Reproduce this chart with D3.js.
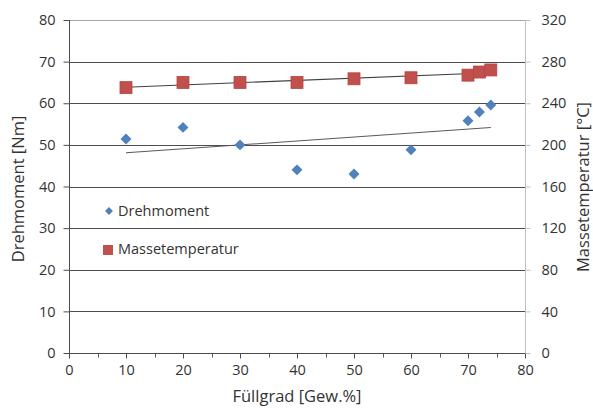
<!DOCTYPE html>
<html>
<head>
<meta charset="utf-8">
<script src="https://cdn.jsdelivr.net/npm/d3@7"></script>
<style>
  body { margin: 0; background: #fff; }
  text { font-family: "Open Sans", sans-serif; fill: #333; }
</style>
</head>
<body>
<svg id="chart"></svg>
<script>
var width = 593;
var height = 408;

// data
var fuellgrad = [10, 20, 30, 40, 50, 60, 70, 72, 74];
var drehmoment = [51.4, 54.2, 50.0, 44.0, 43.0, 48.8, 55.8, 57.9, 59.6];
var masseTemp = [255, 260, 260, 260, 263.5, 264.5, 267, 270, 272];
var xTicks = [0, 10, 20, 30, 40, 50, 60, 70, 80];
var yLeftTicks = [0, 10, 20, 30, 40, 50, 60, 70, 80];
var yRightTicks = [0, 40, 80, 120, 160, 200, 240, 280, 320];

var margin = {top: 20, right: 68, bottom: 55, left: 69};

var svg = d3.select("#chart").attr("width", width).attr("height", height);

var x = d3.scaleLinear().domain([0, 80]).range([margin.left, width - margin.right]);
var yL = d3.scaleLinear().domain([0, 80]).range([height - margin.bottom, margin.top]);
var yR = d3.scaleLinear().domain([0, 320]).range([height - margin.bottom, margin.top]);

// grid lines
svg.append("g")
    .selectAll("line")
    .data(yLeftTicks.slice(1))
    .enter()
    .append("line")
    .attr("x1", x(0)).attr("x2", x(80))
    .attr("y1", function(d) { return Math.round(yL(d)) + 0.5; })
    .attr("y2", function(d) { return Math.round(yL(d)) + 0.5; })
    .attr("stroke", function(d) { return d == 80 ? "#a6a6a6" : "#4d4d4d"; })
    .attr("stroke-width", 1);

// left axis
var axL = svg.append("g")
    .attr("transform", "translate(" + (Math.round(x(0)) + 0.5) + ",0)")
    .call(d3.axisLeft(yL).tickValues(yLeftTicks).tickSize(6).tickPadding(8));

// right axis
var axR = svg.append("g")
    .attr("transform", "translate(" + (Math.round(x(80)) + 0.5) + ",0)")
    .call(d3.axisRight(yR).tickValues(yRightTicks).tickSize(5).tickPadding(11));

// bottom axis with minor ticks
var axB = svg.append("g")
    .attr("transform", "translate(0," + (Math.round(yL(0)) + 0.5) + ")")
    .call(d3.axisBottom(x).tickValues(xTicks).tickSize(5).tickPadding(6));

svg.append("g")
    .attr("transform", "translate(0," + (Math.round(yL(0)) + 0.5) + ")")
    .selectAll("line")
    .data(d3.range(5, 80, 10))
    .enter()
    .append("line")
    .attr("x1", function(d) { return Math.round(x(d)) + 0.5; })
    .attr("x2", function(d) { return Math.round(x(d)) + 0.5; })
    .attr("y1", 0).attr("y2", 4)
    .attr("stroke", "#5a5a5a");

[axL, axB].forEach(function(a) {
    a.select(".domain").attr("stroke", "#4d4d4d");
    a.selectAll(".tick line").attr("stroke", "#4d4d4d");
});
axR.select(".domain").attr("stroke", "#bfbfbf");
axR.selectAll(".tick line").attr("stroke", "#bfbfbf");
[axL, axR, axB].forEach(function(a) {
    a.selectAll(".tick text").attr("font-size", "14.5px")
        .attr("font-family", "Open Sans").attr("fill", "#333");
});
axL.select(".domain").attr("d", "M0," + yL(80) + "V" + yL(0));
axR.select(".domain").attr("d", "M0," + yL(80) + "V" + yL(0));
axB.select(".domain").attr("d", "M" + x(0) + ",0H" + x(80));

// linear trend lines
function trend(xs, ys) {
    var mx = d3.mean(xs), my = d3.mean(ys);
    var num = d3.sum(xs, function(v, i) { return (v - mx) * (ys[i] - my); });
    var den = d3.sum(xs, function(v) { return (v - mx) * (v - mx); });
    var b = num / den;
    var a = my - b * mx;
    var x0 = d3.min(xs), x1 = d3.max(xs);
    return [[x0, a + b * x0], [x1, a + b * x1]];
}

var tD = trend(fuellgrad, drehmoment);
var tM = trend(fuellgrad, masseTemp);

svg.append("line")
    .attr("x1", x(tD[0][0])).attr("y1", yL(tD[0][1]))
    .attr("x2", x(tD[1][0])).attr("y2", yL(tD[1][1]))
    .attr("stroke", "#595959").attr("stroke-width", 1.1);
svg.append("line")
    .attr("x1", x(tM[0][0])).attr("y1", yR(tM[0][1]))
    .attr("x2", x(tM[1][0])).attr("y2", yR(tM[1][1]))
    .attr("stroke", "#404040").attr("stroke-width", 1.1);

// markers
var diamond = d3.symbol().type(d3.symbolDiamond2).size(76);
var square = 12;

svg.append("g")
    .selectAll("rect")
    .data(fuellgrad)
    .enter()
    .append("rect")
    .attr("x", function(d) { return x(d) - square / 2; })
    .attr("y", function(d, i) { return yR(masseTemp[i]) - square / 2; })
    .attr("width", square).attr("height", square)
    .attr("fill", "#c0504d").attr("stroke", "#b8443f").attr("stroke-width", 0.8);

svg.append("g")
    .selectAll("path")
    .data(fuellgrad)
    .enter()
    .append("path")
    .attr("d", diamond)
    .attr("transform", function(d, i) { return "translate(" + x(d) + "," + yL(drehmoment[i]) + ")"; })
    .attr("fill", "#4f81bd");

// legend
var legend = svg.append("g");
legend.append("path")
    .attr("d", d3.symbol().type(d3.symbolDiamond2).size(40))
    .attr("transform", "translate(109,211)")
    .attr("fill", "#4f81bd");
legend.append("text")
    .attr("x", 118).attr("y", 216)
    .attr("font-size", "14.5px")
    .text("Drehmoment");
legend.append("rect")
    .attr("x", 103).attr("y", 245).attr("width", 10).attr("height", 10)
    .attr("fill", "#c0504d");
legend.append("text")
    .attr("x", 118).attr("y", 254)
    .attr("font-size", "14.5px")
    .text("Massetemperatur");

// axis titles
svg.append("text")
    .attr("x", x(40)).attr("y", 402)
    .attr("text-anchor", "middle")
    .attr("font-size", "16.5px")
    .text("Füllgrad [Gew.%]");
svg.append("text")
    .attr("transform", "translate(24,189) rotate(-90)")
    .attr("text-anchor", "middle")
    .attr("font-size", "16.5px")
    .text("Drehmoment [Nm]");
svg.append("text")
    .attr("transform", "translate(589,187) rotate(-90)")
    .attr("text-anchor", "middle")
    .attr("font-size", "16.5px")
    .text("Massetemperatur [°C]");
</script>
</body>
</html>
